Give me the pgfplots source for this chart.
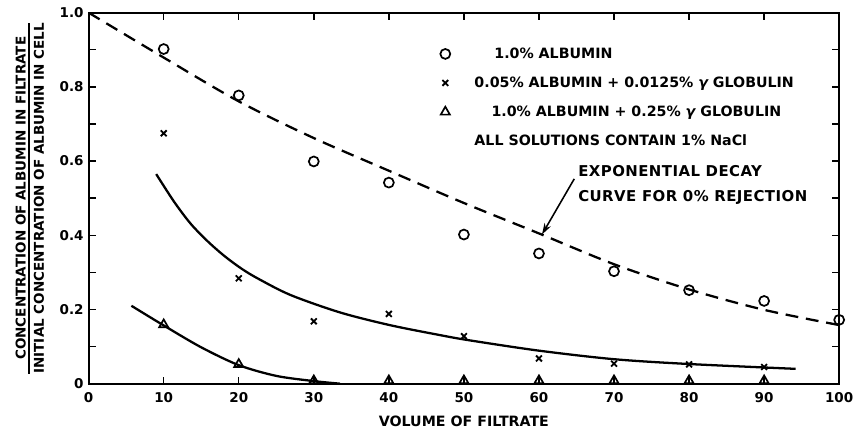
\documentclass[border=0pt]{standalone}
\usepackage{fontspec}
\setmainfont{DejaVu Sans}
\usepackage{pgfplots}
\pgfplotsset{compat=1.18}
\usetikzlibrary{arrows.meta}
\newcommand{\lab}{\bfseries\fontsize{9.5}{11}\selectfont}
\newcommand{\leg}{\bfseries\fontsize{10}{12}\selectfont}
\newcommand{\note}{\bfseries\fontsize{10.5}{12}\selectfont\addfontfeature{LetterSpace=3}}
\setlength{\arrayrulewidth}{1.2pt}

\begin{document}
\begin{tikzpicture}
\begin{axis}[
    scale only axis,
    width=528pt, height=261pt,
    xmin=0, xmax=100, ymin=0, ymax=1,
    xtick={0,10,...,100},
    xticklabels={0,10,20,30,40,50,60,70,80,90,100},
    ytick={0,0.2,0.4,0.6,0.8,1.0},
    yticklabels={0,0.2,0.4,0.6,0.8,1.0},
    minor ytick={0.1,0.3,0.5,0.7,0.9},
    tick align=inside,
    major tick length=5pt, minor tick length=5pt,
    every tick/.style={black, line width=1pt},
    axis line style={line width=1.4pt},
    tick label style={font=\lab},
    xticklabel style={yshift=-3pt},
    label style={font=\lab},
    xlabel={VOLUME OF FILTRATE},
    xlabel style={font=\leg, yshift=-2pt},
    ylabel={\begin{tabular}{@{}c@{}}CONCENTRATION OF ALBUMIN IN FILTRATE\\[-1.5pt]\hline\rule{0pt}{9.8pt}INITIAL CONCENTRATION OF ALBUMIN IN CELL\end{tabular}},
    ylabel style={yshift=1pt},
    legend style={draw=none, fill=none, at={(axis cs:45.3,0.922)}, anchor=north west,
        font=\leg, row sep=7.5pt,
        /tikz/every odd column/.append style={column sep=15pt}},
    legend cell align=left,
]
% fitted curves
\addplot[forget plot, black, line width=1.6pt, dash pattern=on 9pt off 5.5pt, smooth] coordinates {
 (0,1.0) (10,0.879) (20,0.761) (30,0.662) (40,0.574) (50,0.487)
 (60,0.405) (70,0.322) (80,0.254) (90,0.199) (100,0.158)};
\addplot[forget plot, black, line width=1.6pt, smooth] coordinates {
 (9.0,0.565) (11.4,0.49) (13.6,0.431) (15.9,0.383) (18.1,0.344) (20.3,0.311)
 (22.5,0.284) (26.9,0.239) (33.5,0.192) (40.1,0.158) (46.8,0.131) (50.7,0.117)
 (60,0.089) (70,0.066) (80,0.053) (94.2,0.040)};
\addplot[forget plot, black, line width=1.6pt, smooth] coordinates {
 (5.7,0.21) (10,0.157) (15,0.098) (20,0.050) (25,0.021) (30,0.007) (33.5,0.0)};
% data
\addplot[only marks, mark=o, mark size=3.5pt, mark options={line width=1.2pt}] coordinates {
 (10,0.902) (20,0.777) (30,0.599) (40,0.542) (50,0.402) (60,0.351)
 (70,0.303) (80,0.252) (90,0.223) (100,0.172)};
\addlegendentry{\hspace{14pt}1.0\% ALBUMIN}
\addplot[only marks, mark=x, mark size=2.9pt, mark options={line width=1.3pt}] coordinates {
 (10,0.675) (20,0.284) (30,0.168) (40,0.188) (50,0.128) (60,0.068)
 (70,0.054) (80,0.052) (90,0.045)};
\addlegendentry{0.05\% ALBUMIN + 0.0125\% {\itshape γ} GLOBULIN}
\addplot[only marks, mark=triangle, mark size=3.7pt, mark options={line width=1.2pt}] coordinates {
 (10,0.159) (20,0.052) (30,0.008) (40,0.008) (50,0.008) (60,0.008)
 (70,0.008) (80,0.008) (90,0.008)};
\addlegendentry{\hspace{12pt}1.0\% ALBUMIN + 0.25\% {\itshape γ} GLOBULIN}
\addlegendimage{empty legend}
\addlegendentry{ALL SOLUTIONS CONTAIN 1\% NaCl}
% annotation
\node[font=\note, anchor=north west, align=left, inner sep=0pt] at (axis cs:65.2,0.588)
 {EXPONENTIAL DECAY\\[5pt]CURVE FOR 0\% REJECTION};
\draw[-{Stealth[length=8pt,width=5pt]}, line width=1.1pt] (axis cs:64.7,0.552) -- (axis cs:60.4,0.402);
\end{axis}
\path ([xshift=-7pt]current bounding box.west);
\path ([yshift=2pt]current bounding box.north);
\end{tikzpicture}
\end{document}
